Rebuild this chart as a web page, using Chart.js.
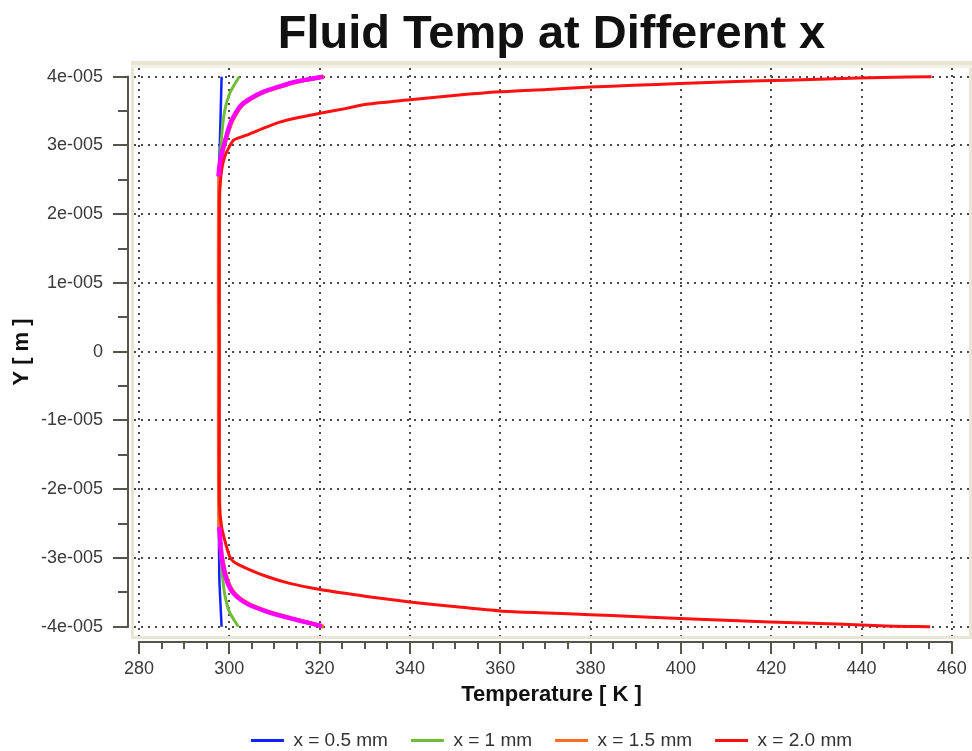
<!DOCTYPE html>
<html>
<head>
<meta charset="utf-8">
<title>Fluid Temp at Different x</title>
<script src="https://cdn.jsdelivr.net/npm/chart.js@4.4.0/dist/chart.umd.min.js"></script>
<style>
  html, body { margin: 0; padding: 0; background: #fff; }
  canvas { display: block; }
</style>
</head>
<body>
<canvas id="chart" width="972" height="751"></canvas>
<script>
// Temperature [K] against Y [m]

// x = 0.5 mm
const yBlue = [-4.0e-5, -3.6e-5, -3.3e-5, -2.5e-5, 0, 2.5e-5, 3.0e-5, 3.5e-5, 4.0e-5];
const tBlue = [298.3, 298.0, 297.8, 297.7, 297.7, 297.7, 297.9, 298.1, 298.3];

// x = 1 mm
const yGreen = [-4.0e-5, -3.78e-5, -3.53e-5, -3.27e-5, -3.03e-5, -2.6e-5, 0, 2.6e-5, 3.03e-5, 3.27e-5, 3.51e-5, 3.76e-5, 4.0e-5];
const tGreen = [302.0, 300.0, 299.0, 298.5, 298.2, 297.9, 297.8, 297.9, 298.2, 298.5, 299.0, 300.1, 302.2];

// x = 1.5 mm (almost all of it sits under the magenta curve)
const yOrange = [-4.0e-5, -3.89e-5, -3.78e-5, -3.66e-5, -3.51e-5, -3.32e-5, -2.98e-5, -2.55e-5, 0, 2.55e-5, 2.93e-5, 3.32e-5, 3.46e-5, 3.59e-5, 3.68e-5, 3.78e-5, 3.86e-5, 3.93e-5, 4.0e-5];
const tOrange = [320.9, 314.6, 308.6, 304.1, 301.1, 299.6, 298.4, 297.8, 297.7, 297.8, 298.6, 300.4, 301.5, 302.9, 304.8, 307.8, 311.5, 315.2, 321.0];

// x = 2.0 mm
const yRed = [-4.0e-5, -3.99e-5, -3.96e-5, -3.93e-5, -3.88e-5, -3.85e-5, -3.825e-5, -3.80e-5, -3.77e-5, -3.71e-5, -3.64e-5, -3.56e-5, -3.46e-5, -3.37e-5, -3.27e-5, -3.15e-5, -3.05e-5, -2.98e-5, -2.84e-5, -2.55e-5, -2.16e-5, 0, 2.21e-5, 2.64e-5, 2.84e-5, 2.98e-5, 3.08e-5, 3.15e-5, 3.25e-5, 3.34e-5, 3.41e-5, 3.47e-5, 3.54e-5, 3.6e-5, 3.665e-5, 3.73e-5, 3.78e-5, 3.815e-5, 3.85e-5, 3.875e-5, 3.9e-5, 3.93e-5, 3.95e-5, 3.97e-5, 3.99e-5, 4.0e-5];
const tRed = [455.2, 445.5, 434.5, 419.7, 399.8, 389.4, 379.9, 370.3, 359.9, 350.3, 340.0, 330.4, 320.1, 313.4, 308.3, 303.8, 300.9, 300.1, 299.4, 298.3, 297.8, 297.8, 297.8, 298.3, 299.0, 300.0, 301.0, 303.8, 307.5, 311.2, 315.6, 320.1, 326.0, 330.4, 340.0, 350.3, 359.9, 370.3, 379.9, 389.4, 399.8, 412.3, 423.4, 434.1, 444.7, 455.5];

// magenta, not in the legend (two pieces, null breaks the line)
const yPink = [-3.99e-5, -3.89e-5, -3.78e-5, -3.66e-5, -3.51e-5, -3.32e-5, -2.98e-5, -2.55e-5, 0, 2.55e-5, 2.74e-5, 2.93e-5, 3.12e-5, 3.32e-5, 3.46e-5, 3.59e-5, 3.68e-5, 3.78e-5, 3.86e-5, 3.93e-5, 4.0e-5];
const tPink = [320.5, 314.2, 308.3, 303.8, 300.9, 299.4, 298.3, 297.8, null, 297.6, 297.9, 298.5, 299.3, 300.2, 301.3, 302.7, 304.6, 307.5, 311.2, 314.9, 320.8];

const seriesNames = ['x = 0.5 mm', 'x = 1 mm', 'x = 1.5 mm', 'x = 2.0 mm'];

// tick labels
const xMajor = [280, 300, 320, 340, 360, 380, 400, 420, 440, 460];
const yMajor = [-4e-5, -3e-5, -2e-5, -1e-5, 0, 1e-5, 2e-5, 3e-5, 4e-5];
const xMinorPerMajor = 4;
const yMinorPerMajor = 2;

function points(ys, ts) {
    return ys.map((y, i) => ({ x: ts[i], y: y }));
}

function yLabel(v) {
    const m = Math.round(v * 1e5);
    return m === 0 ? '0' : m + 'e-005';
}

const axisColor = '#56554c';
const gridColor = '#4a4a4a';
const font = 'Liberation Sans, Arial, sans-serif';

// beige frame around the plot, and axes hanging off it like the original
const plotFrame = {
    id: 'plotFrame',
    beforeDraw(chart) {
        const { ctx, chartArea: a } = chart;
        ctx.save();
        ctx.fillStyle = '#ffffff';
        ctx.fillRect(0, 0, chart.width, chart.height);
        ctx.fillStyle = '#e8e5d4';
        ctx.fillRect(a.left - 3, a.top - 7, a.right - a.left + 6, a.bottom - a.top + 10);
        ctx.fillStyle = '#f3f1e6';
        ctx.fillRect(a.left - 3, a.top - 3, a.right - a.left + 6, 3);
        ctx.fillStyle = '#ffffff';
        ctx.fillRect(a.left, a.top, a.right - a.left, a.bottom - a.top);
        ctx.restore();
    },
    afterDraw(chart) {
        const { ctx, chartArea: a } = chart;
        const xs = chart.scales.x, ys = chart.scales.y;
        ctx.save();
        ctx.strokeStyle = axisColor;
        ctx.lineWidth = 2;
        ctx.beginPath();

        // x axis below the plot, ticks pointing down
        const ax = a.bottom + 6;
        const xl = xs.getPixelForValue(xMajor[0]);
        const xr = xs.getPixelForValue(xMajor[xMajor.length - 1]);
        ctx.moveTo(xl - 1, ax);
        ctx.lineTo(xr + 1, ax);
        for (let i = 0; i < xMajor.length; i++) {
            const px = Math.round(xs.getPixelForValue(xMajor[i]));
            ctx.moveTo(px, ax);
            ctx.lineTo(px, ax + 12);
            if (i < xMajor.length - 1) {
                const step = (xMajor[i + 1] - xMajor[i]) / xMinorPerMajor;
                for (let k = 1; k < xMinorPerMajor; k++) {
                    const pm = Math.round(xs.getPixelForValue(xMajor[i] + k * step));
                    ctx.moveTo(pm, ax);
                    ctx.lineTo(pm, ax + 7);
                }
            }
        }

        // y axis left of the plot, ticks pointing left
        const ay = a.left - 6;
        const yt = ys.getPixelForValue(yMajor[yMajor.length - 1]);
        const yb = ys.getPixelForValue(yMajor[0]);
        ctx.moveTo(ay, yt - 1);
        ctx.lineTo(ay, yb + 1);
        for (let i = 0; i < yMajor.length; i++) {
            const py = Math.round(ys.getPixelForValue(yMajor[i]));
            ctx.moveTo(ay, py);
            ctx.lineTo(ay - 15, py);
            if (i < yMajor.length - 1) {
                const step = (yMajor[i + 1] - yMajor[i]) / yMinorPerMajor;
                for (let k = 1; k < yMinorPerMajor; k++) {
                    const pm = Math.round(ys.getPixelForValue(yMajor[i] + k * step));
                    ctx.moveTo(ay, pm);
                    ctx.lineTo(ay - 10, pm);
                }
            }
        }
        ctx.stroke();
        ctx.restore();
    }
};

function line(label, ys, ts, color, width, order) {
    return {
        label: label,
        data: points(ys, ts),
        borderColor: color,
        backgroundColor: color,
        borderWidth: width,
        pointRadius: 0,
        pointHoverRadius: 0,
        showLine: true,
        spanGaps: false,
        tension: 0.25,
        order: order
    };
}

new Chart(document.getElementById('chart'), {
    type: 'scatter',
    data: {
        datasets: [
            line(seriesNames[0], yBlue, tBlue, '#1020ff', 2.5, 5),
            line(seriesNames[1], yGreen, tGreen, '#72bd38', 3, 4),
            line(seriesNames[2], yOrange, tOrange, '#ff6e1e', 4, 3),
            line(seriesNames[3], yRed, tRed, '#ff1010', 3, 2),
            line('', yPink, tPink, '#ff00ff', 4.5, 1)
        ]
    },
    options: {
        responsive: false,
        devicePixelRatio: 1,
        animation: false,
        layout: { padding: { left: 0, right: 3, top: 0, bottom: 0 } },
        plugins: {
            title: {
                display: true,
                text: 'Fluid Temp at Different x',
                fullSize: false,
                color: '#111',
                font: { family: font, size: 47, weight: 'bold' },
                padding: { top: 7, bottom: 4.6 }
            },
            legend: {
                position: 'bottom',
                fullSize: false,
                maxHeight: 43,
                labels: {
                    boxWidth: 33,
                    boxHeight: 3,
                    padding: 23,
                    color: '#333',
                    font: { family: font, size: 19 },
                    filter: item => item.text !== '',
                    sort: (a, b) => a.datasetIndex - b.datasetIndex,
                    generateLabels: chart => Chart.defaults.plugins.legend.labels
                        .generateLabels(chart).map(l => Object.assign(l, { lineWidth: 0 }))
                }
            },
            tooltip: { enabled: false }
        },
        scales: {
            x: {
                type: 'linear',
                min: 278.9,
                max: 463.8,
                afterBuildTicks: s => { s.ticks = xMajor.map(v => ({ value: v })); },
                afterFit: s => { s.height = 72; s.paddingLeft = 0; s.paddingRight = 0; },
                grid: { color: gridColor, lineWidth: 2, drawTicks: false },
                border: { display: false, dash: [2, 5] },
                ticks: {
                    autoSkip: false,
                    maxRotation: 0,
                    padding: 22,
                    color: '#3a3a3a',
                    font: { family: font, size: 18 }
                },
                title: {
                    display: true,
                    text: 'Temperature [ K ]',
                    color: '#111',
                    font: { family: font, size: 22, weight: 'bold' },
                    padding: { top: 0, bottom: 0 }
                }
            },
            y: {
                type: 'linear',
                min: -4.135e-5,
                max: 4.127e-5,
                afterBuildTicks: s => { s.ticks = yMajor.map(v => ({ value: v })); },
                afterFit: s => { s.width = 134; s.paddingTop = 0; s.paddingBottom = 0; },
                grid: { color: gridColor, lineWidth: 2, drawTicks: false },
                border: { display: false, dash: [2, 5] },
                ticks: {
                    autoSkip: false,
                    padding: 31,
                    color: '#3a3a3a',
                    font: { family: font, size: 18 },
                    callback: v => yLabel(v)
                },
                title: {
                    display: true,
                    text: 'Y [ m ]',
                    color: '#111',
                    font: { family: font, size: 22, weight: 'bold' },
                    padding: { top: 9, bottom: 0 }
                }
            }
        }
    },
    plugins: [plotFrame]
});
</script>
</body>
</html>
